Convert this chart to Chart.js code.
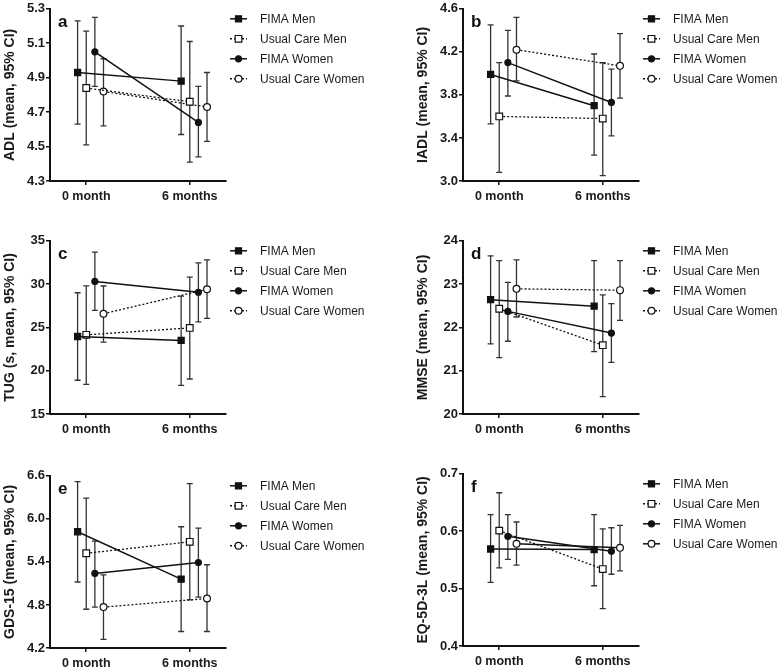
<!DOCTYPE html>
<html>
<head>
<meta charset="utf-8">
<title>FIMA outcomes by sex</title>
<script src="https://cdn.jsdelivr.net/npm/chart.js@4.4.1/dist/chart.umd.min.js"></script>
<style>
  html, body { margin: 0; padding: 0; background: #fff; overflow: hidden; }
  #wrap { position: relative; width: 778px; height: 669px; }
  canvas { position: absolute; }
</style>
</head>
<body>
<div id="wrap">
  <canvas id="panelA" width="365" height="214" style="left:0;top:0"></canvas>
  <canvas id="panelB" width="365" height="214" style="left:413px;top:0"></canvas>
  <canvas id="panelC" width="365" height="215" style="left:0;top:232px"></canvas>
  <canvas id="panelD" width="365" height="215" style="left:413px;top:232px"></canvas>
  <canvas id="panelE" width="365" height="214" style="left:0;top:467px"></canvas>
  <canvas id="panelF" width="365" height="214" style="left:413px;top:465px"></canvas>
</div>
<script>
document.addEventListener('DOMContentLoaded', () => {
    const groups = ['FIMA Men', 'Usual Care Men', 'FIMA Women', 'Usual Care Women'];
    const months = [0, 6];
    const monthLabels = ['0 month', '6 months'];

    // a: ADL  (per group: [0 month, 6 months])
    const adlMean  = [[4.93, 4.88], [4.84, 4.76], [5.05, 4.64], [4.82, 4.73]];
    const adlLower = [[4.63, 4.57], [4.51, 4.41], [4.85, 4.44], [4.62, 4.53]];
    const adlUpper = [[5.23, 5.20], [5.17, 5.11], [5.25, 4.85], [5.01, 4.93]];
    const adlTicks = [4.3, 4.5, 4.7, 4.9, 5.1, 5.3];

    // b: IADL
    const iadlMean  = [[3.99, 3.70], [3.60, 3.58], [4.10, 3.73], [4.22, 4.07]];
    const iadlLower = [[3.53, 3.24], [3.08, 3.05], [3.79, 3.42], [3.93, 3.77]];
    const iadlUpper = [[4.45, 4.18], [4.10, 4.10], [4.40, 4.04], [4.52, 4.37]];
    const iadlTicks = [3.0, 3.4, 3.8, 4.2, 4.6];

    // c: TUG
    const tugMean  = [[23.95, 23.50], [24.14, 24.94], [30.31, 29.06], [26.58, 29.40]];
    const tugLower = [[18.90, 18.30], [18.43, 19.04], [26.96, 25.63], [23.30, 26.05]];
    const tugUpper = [[29.00, 28.60], [29.80, 30.80], [33.70, 32.45], [29.78, 32.80]];
    const tugTicks = [15, 20, 25, 30, 35];

    // d: MMSE
    const mmseMean  = [[22.64, 22.49], [22.43, 21.59], [22.37, 21.87], [22.89, 22.86]];
    const mmseLower = [[21.62, 21.44], [21.30, 20.40], [21.68, 21.19], [22.24, 22.16]];
    const mmseUpper = [[23.65, 23.54], [23.54, 22.75], [23.04, 22.55], [23.56, 23.54]];
    const mmseTicks = [20, 21, 22, 23, 24];

    // e: GDS-15
    const gdsMean  = [[5.82, 5.16], [5.52, 5.68], [5.24, 5.39], [4.77, 4.89]];
    const gdsLower = [[5.12, 4.43], [4.74, 4.87], [4.77, 4.91], [4.32, 4.43]];
    const gdsUpper = [[6.52, 5.89], [6.29, 6.49], [5.69, 5.87], [5.22, 5.36]];
    const gdsTicks = [4.2, 4.8, 5.4, 6.0, 6.6];

    // f: EQ-5D-3L
    const eqMean  = [[0.569, 0.568], [0.601, 0.534], [0.591, 0.565], [0.578, 0.571]];
    const eqLower = [[0.511, 0.505], [0.536, 0.465], [0.551, 0.525], [0.541, 0.531]];
    const eqUpper = [[0.629, 0.629], [0.667, 0.604], [0.629, 0.606], [0.616, 0.610]];
    const eqTicks = [0.4, 0.5, 0.6, 0.7];

    // look of the four groups
    const dodge = [-0.5, 0, 0.5, 1];   // horizontal offset so bars don't overlap
    const markerShape = ['rect', 'rect', 'circle', 'circle'];
    const markerFill = ['#111', '#fff', '#111', '#fff'];
    const markerSize = [4.3, 4.7, 3, 3.4];
    const ink = '#111';
    const fontFamily = '"Liberation Sans", Arial, Helvetica, sans-serif';

    function drawMarker(ctx, shape, r, x, y, fill) {
        ctx.beginPath();
        if (shape === 'rect') {
            const h = r * Math.SQRT1_2;
            ctx.rect(x - h, y - h, 2 * h, 2 * h);
        } else {
            ctx.arc(x, y, r, 0, Math.PI * 2);
        }
        ctx.fillStyle = fill;
        ctx.fill();
        ctx.lineWidth = 1.2;
        ctx.strokeStyle = ink;
        ctx.stroke();
    }

    // 95% CI whiskers, drawn under the lines and markers
    const errorBars = {
        id: 'errorBars',
        beforeDatasetsDraw(chart) {
            const ctx = chart.ctx;
            const xs = chart.scales.x, ys = chart.scales.y;
            ctx.save();
            ctx.strokeStyle = '#333';
            ctx.lineWidth = 1.3;
            chart.data.datasets.forEach(ds => {
                ds.data.forEach(p => {
                    const x = xs.getPixelForValue(p.x);
                    const top = ys.getPixelForValue(p.hi);
                    const bot = ys.getPixelForValue(p.lo);
                    ctx.beginPath();
                    ctx.moveTo(x, top); ctx.lineTo(x, bot);
                    ctx.moveTo(x - 3, top); ctx.lineTo(x + 3, top);
                    ctx.moveTo(x - 3, bot); ctx.lineTo(x + 3, bot);
                    ctx.stroke();
                });
            });
            ctx.restore();
        }
    };

    // legend with line sample + marker, and the panel letter
    const sideLegend = {
        id: 'sideLegend',
        afterDraw(chart, args, opts) {
            const ctx = chart.ctx;
            const area = chart.chartArea;
            ctx.save();
            chart.data.datasets.forEach((ds, i) => {
                const y = area.top + 10 + i * 20;
                const x0 = area.right + 4;
                ctx.beginPath();
                ctx.setLineDash(ds.borderDash);
                ctx.strokeStyle = ink;
                ctx.lineWidth = 1.5;
                ctx.moveTo(x0, y); ctx.lineTo(x0 + 17, y);
                ctx.stroke();
                ctx.setLineDash([]);
                drawMarker(ctx, markerShape[i], markerSize[i], x0 + 8.5, y, markerFill[i]);
                ctx.fillStyle = '#1a1a1a';
                ctx.font = '12px ' + fontFamily;
                ctx.textAlign = 'left';
                ctx.textBaseline = 'middle';
                ctx.fillText(ds.label, area.right + 34, y + 0.5);
            });
            ctx.font = 'bold 17px ' + fontFamily;
            ctx.fillStyle = ink;
            ctx.textBaseline = 'middle';
            ctx.fillText(opts.letter, area.left + 8, area.top + 14);
            ctx.restore();
        }
    };

    function makePanel(id, letter, title, mean, lower, upper, ticks, decimals, dashes) {
        const datasets = groups.map((g, i) => ({
            label: g,
            data: months.map((m, j) => ({ x: m + dodge[i], y: mean[i][j], lo: lower[i][j], hi: upper[i][j] })),
            showLine: true,
            borderColor: ink,
            borderWidth: dashes[i].length ? 1.3 : 1.5,
            borderDash: dashes[i],
            pointStyle: markerShape[i],
            pointRadius: markerSize[i],
            pointBackgroundColor: markerFill[i],
            pointBorderColor: ink,
            pointBorderWidth: 1.2,
            tension: 0
        }));

        const tickFont = { family: fontFamily, size: 13, weight: 'bold' };

        new Chart(document.getElementById(id), {
            type: 'scatter',
            data: { datasets },
            options: {
                responsive: false,
                animation: false,
                layout: { padding: { left: 0, top: 7, right: 139, bottom: 0 } },
                scales: {
                    x: {
                        type: 'linear',
                        min: -2.1,
                        max: 8.1,
                        afterBuildTicks: s => { s.ticks = months.map(v => ({ value: v })); },
                        afterFit: s => { s.height = 33; },
                        ticks: {
                            callback: v => monthLabels[months.indexOf(v)],
                            font: { family: fontFamily, size: 12.5, weight: 'bold' },
                            color: '#1a1a1a',
                            padding: 4,
                            maxRotation: 0,
                            autoSkip: false
                        },
                        grid: { drawOnChartArea: false, tickLength: 4, color: ink, lineWidth: 1.5 },
                        border: { color: ink, width: 2 }
                    },
                    y: {
                        min: ticks[0],
                        max: ticks[ticks.length - 1],
                        afterBuildTicks: s => { s.ticks = ticks.map(v => ({ value: v })); },
                        afterFit: s => { s.width = 50; },
                        ticks: {
                            callback: v => v.toFixed(decimals),
                            font: tickFont,
                            color: '#1a1a1a',
                            padding: 1
                        },
                        grid: { drawOnChartArea: false, tickLength: 4, color: ink, lineWidth: 1.5 },
                        border: { color: ink, width: 2 },
                        title: {
                            display: true,
                            text: title,
                            font: { family: fontFamily, size: 14, weight: 'bold' },
                            color: '#1a1a1a',
                            padding: { top: 2, bottom: 0 }
                        }
                    }
                },
                plugins: {
                    legend: { display: false },
                    tooltip: { enabled: false },
                    sideLegend: { letter }
                }
            },
            plugins: [errorBars, sideLegend]
        });
    }

    const dotted = [[], [2, 2], [], [2, 2]];
    const dottedMenOnly = [[], [2, 2], [], []];

    makePanel('panelA', 'a', 'ADL (mean, 95% CI)', adlMean, adlLower, adlUpper, adlTicks, 1, dotted);
    makePanel('panelB', 'b', 'IADL (mean, 95% CI)', iadlMean, iadlLower, iadlUpper, iadlTicks, 1, dotted);
    makePanel('panelC', 'c', 'TUG (s, mean, 95% CI)', tugMean, tugLower, tugUpper, tugTicks, 0, dotted);
    makePanel('panelD', 'd', 'MMSE (mean, 95% CI)', mmseMean, mmseLower, mmseUpper, mmseTicks, 0, dotted);
    makePanel('panelE', 'e', 'GDS-15 (mean, 95% CI)', gdsMean, gdsLower, gdsUpper, gdsTicks, 1, dotted);
    makePanel('panelF', 'f', 'EQ-5D-3L (mean, 95% CI)', eqMean, eqLower, eqUpper, eqTicks, 1, dottedMenOnly);
});
</script>
</body>
</html>
